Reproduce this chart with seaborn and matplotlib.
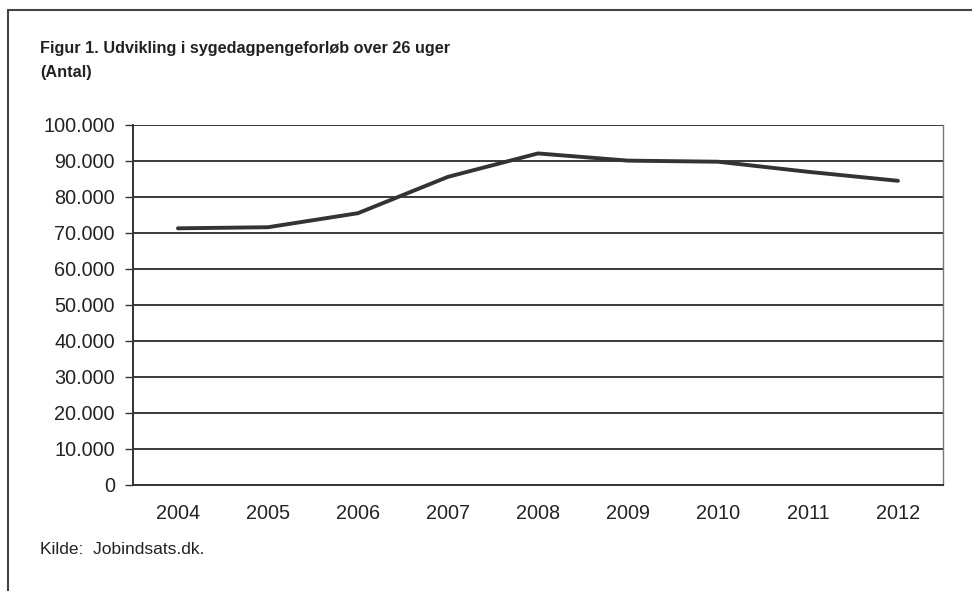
import matplotlib
matplotlib.use("Agg")
import matplotlib.pyplot as plt
from matplotlib.lines import Line2D
from matplotlib.ticker import FixedLocator, FuncFormatter
import seaborn as sns
import pandas as pd
import numpy as np

# Data
years = ["2004", "2005", "2006", "2007", "2008", "2009", "2010", "2011", "2012"]
forloeb = [71300, 71600, 75500, 85600, 92100, 90100, 89800, 87000, 84500]
y_ticks = [0, 10000, 20000, 30000, 40000, 50000, 60000, 70000, 80000, 90000, 100000]

df = pd.DataFrame({"pos": np.arange(len(years)), "Antal": forloeb})

sns.set_style("white")
plt.rcParams["font.family"] = ["Liberation Sans", "DejaVu Sans"]

fig = plt.figure(figsize=(9.72, 5.91), dpi=100)
ax = fig.add_axes([0.1368, 0.1794, 0.8333, 0.6091])

# Horizontal gridlines
for v in y_ticks:
    ax.axhline(v, color="#3a3a3a", lw=1.4, zorder=1)

sns.lineplot(data=df, x="pos", y="Antal", ax=ax, color="#333333", lw=2.8, zorder=3)

ax.set_xlim(-0.5, len(years) - 0.5)
ax.set_ylim(0, 100000)
ax.set_yticks(y_ticks)
ax.yaxis.set_major_formatter(FuncFormatter(lambda v, p: f"{int(v):,}".replace(",", ".")))
ax.set_xticks(df["pos"])
ax.set_xticklabels(years)
ax.xaxis.set_minor_locator(FixedLocator(np.arange(-0.5, len(years), 1.0)))
ax.tick_params(axis="x", which="major", length=0, pad=14, labelsize=14.3, colors="#222222")
ax.tick_params(axis="x", which="minor", length=6, width=1, color="#333333", direction="out")
ax.tick_params(axis="y", which="major", length=6, width=1, color="#333333", direction="out",
               pad=7, labelsize=14.3, labelcolor="#222222", left=True)
ax.set_xlabel("")
ax.set_ylabel("")

for side in ["left", "bottom"]:
    ax.spines[side].set_color("#333333")
    ax.spines[side].set_linewidth(1.4)
ax.spines["top"].set_visible(False)
ax.spines["right"].set_color("#777777")
ax.spines["right"].set_linewidth(1.0)

# Texts
fig.text(40 / 972, 1 - 48 / 591, "Figur 1. Udvikling i sygedagpengeforløb over 26 uger",
         fontsize=11.7, fontweight="bold", color="#222222", va="center")
fig.text(40 / 972, 1 - 72 / 591, "(Antal)",
         fontsize=11.7, fontweight="bold", color="#222222", va="center")
fig.text(40 / 972, 1 - 549 / 591, "Kilde:  Jobindsats.dk.",
         fontsize=12.5, color="#222222", va="center")

# Document frame (top and left edges)
fig.add_artist(Line2D([8 / 972, 1.0], [1 - 10 / 591, 1 - 10 / 591], color="#444444", lw=1.5))
fig.add_artist(Line2D([8 / 972, 8 / 972], [0.0, 1 - 10 / 591], color="#444444", lw=1.5))

fig.savefig("out.png", dpi=100)
